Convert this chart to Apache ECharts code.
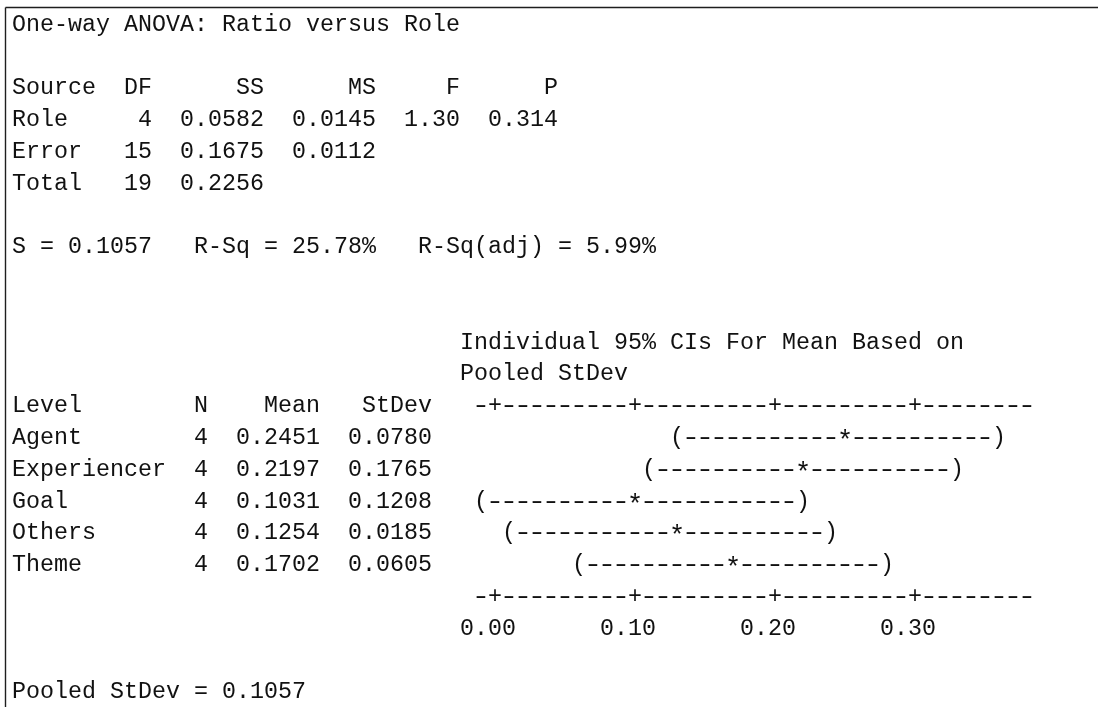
<!DOCTYPE html>
<html>
<head>
<meta charset="utf-8">
<title>One-way ANOVA: Ratio versus Role</title>
<script src="https://cdn.jsdelivr.net/npm/echarts@6/dist/echarts.min.js"></script>
<style>
  html, body { margin: 0; padding: 0; background: #ffffff; }
  #chart { width: 1098px; height: 707px; }
</style>
</head>
<body>
<div id="chart"></div>
<script>
// ---- ANOVA table ----
const sources = ['Role', 'Error', 'Total'];
const dfs = [4, 15, 19];
const sumSq = ['0.0582', '0.1675', '0.2256'];
const meanSq = ['0.0145', '0.0112', ''];
const fStat = ['1.30', '', ''];
const pValue = ['0.314', '', ''];

// ---- fit summary ----
const sValue = '0.1057';
const rSq = '25.78%';
const rSqAdj = '5.99%';
const pooledStDev = '0.1057';

// ---- per-level statistics ----
const levels = ['Agent', 'Experiencer', 'Goal', 'Others', 'Theme'];
const counts = [4, 4, 4, 4, 4];
const means = [0.2451, 0.2197, 0.1031, 0.1254, 0.1702];
const stdevs = [0.0780, 0.1765, 0.1208, 0.0185, 0.0605];
// 95% confidence limits for each level mean (pooled StDev)
const ciLower = [0.1325, 0.1071, -0.0095, 0.0128, 0.0576];
const ciUpper = [0.3577, 0.3323, 0.2157, 0.2380, 0.2828];

// ---- CI scale ----
const scaleTicks = [0.00, 0.10, 0.20, 0.30];

// ---------------- layout (character grid) ----------------
const CELL_W = 14;            // width of one character cell
const X0 = 12;                // left edge of column 0
const ROW_Y0 = 24.5;          // middle of text row 0
const ROW_H = 31.8;           // line pitch
const FONT_SIZE = 23.33;
const FONT_FAMILY = '"Liberation Mono", "DejaVu Sans Mono", monospace';
const FONT = FONT_SIZE + 'px ' + FONT_FAMILY;
const STAR_FONT = '27px ' + FONT_FAMILY;
const INK = '#111111';

const STEP = 0.01;            // value covered by one character of the CI plot
const RULER_COL = 33;         // first column of the CI ruler
const RULER_LEN = 40;         // ruler length in characters
const LABEL_COL = 32;         // column of the "Individual 95% CIs" caption

const rowY = r => ROW_Y0 + r * ROW_H;
const colX = c => X0 + c * CELL_W;

const lpad = (s, n) => String(s).padStart(n, ' ');
const rpad = (s, n) => String(s).padEnd(n, ' ');

// ANOVA table lines
const anovaHeader = rpad('Source', 6) + '  ' + lpad('DF', 2) + '  ' + lpad('SS', 6) + '  ' +
  lpad('MS', 6) + '  ' + lpad('F', 4) + '  ' + lpad('P', 5);
const anovaRows = sources.map((s, i) => (
  rpad(s, 6) + '  ' + lpad(dfs[i], 2) + '  ' + lpad(sumSq[i], 6) +
  (meanSq[i] ? '  ' + lpad(meanSq[i], 6) : '') +
  (fStat[i] ? '  ' + lpad(fStat[i], 4) : '') +
  (pValue[i] ? '  ' + lpad(pValue[i], 5) : '')
));

// level table (left of the CI plot)
const nameW = Math.max(...levels.map(s => s.length));
const levelHeader = rpad('Level', nameW) + '  ' + 'N' + '  ' + lpad('Mean', 6) + '  ' + lpad('StDev', 6);
const levelRows = levels.map((s, i) => (
  rpad(s, nameW) + '  ' + counts[i] + '  ' + means[i].toFixed(4) + '  ' + stdevs[i].toFixed(4)
));

const lines = [
  [0, 0, 'One-way ANOVA: Ratio versus Role'],
  [2, 0, anovaHeader],
  ...anovaRows.map((t, i) => [3 + i, 0, t]),
  [7, 0, 'S = ' + sValue + '   R-Sq = ' + rSq + '   R-Sq(adj) = ' + rSqAdj],
  [10, LABEL_COL, 'Individual 95% CIs For Mean Based on'],
  [11, LABEL_COL, 'Pooled StDev'],
  [12, 0, levelHeader],
  ...levelRows.map((t, i) => [13 + i, 0, t]),
  [21, 0, 'Pooled StDev = ' + pooledStDev]
];

const textGraphics = lines.map(([r, c, t]) => ({
  type: 'text',
  x: colX(c),
  y: rowY(r),
  silent: true,
  style: { text: t, font: FONT, fill: INK, align: 'left', verticalAlign: 'middle' }
}));

// frame: top and left rules
const frame = [
  { type: 'line', silent: true, shape: { x1: 5.5, y1: 7.5, x2: 1098, y2: 7.5 }, style: { stroke: '#1e1e1e', lineWidth: 1.4 } },
  { type: 'line', silent: true, shape: { x1: 5.5, y1: 7.5, x2: 5.5, y2: 707 }, style: { stroke: '#1e1e1e', lineWidth: 1.4 } }
];

// ---------------- CI plot (character-cell value axis) ----------------
// rows of the plot: top ruler, one row per level, bottom ruler
const plotRows = ['ruler-top', ...levels, 'ruler-bottom'];
const xMin = scaleTicks[0] - 1.5 * STEP;          // left edge of the first ruler cell
const xMax = xMin + RULER_LEN * STEP;
const cellsIn = (a, b) => {
  const out = [];
  for (let k = Math.round(a / STEP); k <= Math.round(b / STEP); k++) out.push(k);
  return out;
};

// one character of the plot, centred in its cell; dashes drawn a little wider
const glyph = (pt, ch) => ({
  type: 'text',
  x: pt[0],
  y: pt[1] + (ch === '*' ? 4 : 0),
  scaleX: ch === '-' ? 1.35 : 1,
  style: {
    x: 0, y: 0, text: ch,
    font: ch === '*' ? STAR_FONT : FONT,
    fill: INK, align: 'center', verticalAlign: 'middle'
  }
});

const rulerData = [[0], [plotRows.length - 1]];
const tickKeys = scaleTicks.map(t => Math.round(t / STEP));

function renderRuler(params, api) {
  const row = api.value(0);
  const children = cellsIn(xMin + STEP / 2, xMax - STEP / 2).map(k => {
    const ch = tickKeys.includes(k) ? '+' : '-';
    return glyph(api.coord([k * STEP, row]), ch);
  });
  return { type: 'group', children };
}

const ciData = levels.map((s, i) => [ciLower[i], ciUpper[i], means[i], i + 1]);

function renderCI(params, api) {
  const lo = Math.round(api.value(0) / STEP);
  const hi = Math.round(api.value(1) / STEP);
  const mid = Math.round(api.value(2) / STEP);
  const row = api.value(3);
  const children = cellsIn(lo * STEP, hi * STEP).map(k => {
    const ch = k === lo ? '(' : k === hi ? ')' : k === mid ? '*' : '-';
    return glyph(api.coord([k * STEP, row]), ch);
  });
  return { type: 'group', children };
}

const chart = echarts.init(document.getElementById('chart'), null, { renderer: 'canvas' });

chart.setOption({
  backgroundColor: '#ffffff',
  animation: false,
  grid: {
    left: colX(RULER_COL),
    top: rowY(12) - ROW_H / 2,
    width: RULER_LEN * CELL_W,
    height: plotRows.length * ROW_H,
    containLabel: false
  },
  xAxis: [
    { type: 'value', min: xMin, max: xMax, show: false },
    {
      // scale labels, centred on the four characters that carry each value
      type: 'value',
      position: 'bottom',
      min: xMin + 0.5 * STEP,
      max: xMax + 0.5 * STEP,
      axisLine: { show: false },
      axisTick: { show: false },
      splitLine: { show: false },
      axisLabel: {
        customValues: scaleTicks,
        formatter: v => v.toFixed(2),
        margin: ROW_H / 2,
        verticalAlign: 'middle',
        align: 'center',
        fontFamily: FONT_FAMILY,
        fontSize: FONT_SIZE,
        color: INK
      }
    }
  ],
  yAxis: { type: 'category', inverse: true, data: plotRows, show: false },
  series: [
    { type: 'custom', name: 'ruler', xAxisIndex: 0, data: rulerData, renderItem: renderRuler, silent: true },
    { type: 'custom', name: '95% CI', xAxisIndex: 0, data: ciData, renderItem: renderCI, silent: true }
  ],
  graphic: [...frame, ...textGraphics]
});
</script>
</body>
</html>
